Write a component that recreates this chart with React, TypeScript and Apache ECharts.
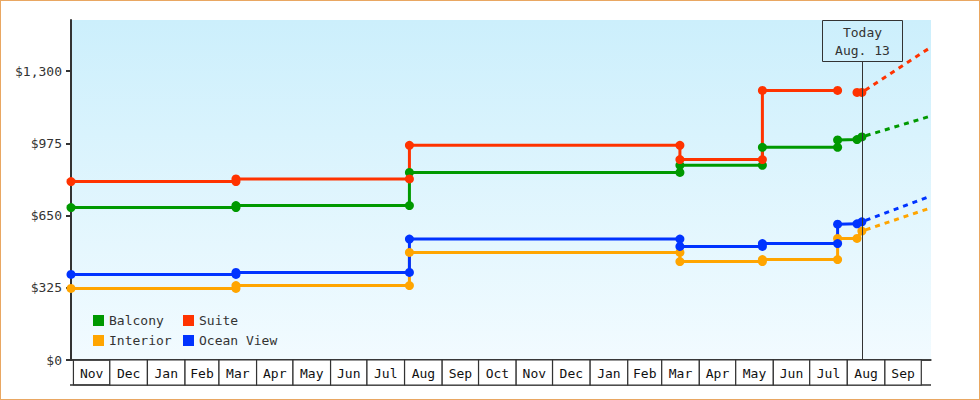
import { useEffect, useRef } from 'react'
import * as echarts from 'echarts'

const startDate = '2013-10-30'
const endDate = '2015-10-09'
const today = '2015-08-13'
const todayLabel = ['Today', 'Aug. 13']

// month boxes under the plot, first box is Nov 2013
const firstMonth = { year: 2013, month: 10 }
const monthLabels = [
  'Nov', 'Dec', 'Jan', 'Feb', 'Mar', 'Apr', 'May', 'Jun', 'Jul', 'Aug', 'Sep',
  'Oct', 'Nov', 'Dec', 'Jan', 'Feb', 'Mar', 'Apr', 'May', 'Jun', 'Jul', 'Aug', 'Sep',
]

const priceTicks = [0, 325, 650, 975, 1300]

// fare changes: each change date appears twice (old price, new price)
const stepDates = [
  '2013-10-30', '2014-03-15', '2014-03-15', '2014-08-05', '2014-08-05',
  '2015-03-16', '2015-03-16', '2015-05-23', '2015-05-23', '2015-07-24',
  '2015-07-24', '2015-08-09', '2015-08-13',
]
const balcony = [686, 686, 695, 695, 844, 844, 876, 876, 957, 957, 990, 992, 1004]
const suite = [803, 803, 815, 815, 966, 966, 902, 902, 1213, 1213, null, 1204, 1204]
const interior = [322, 322, 335, 335, 484, 484, 443, 443, 452, 452, 547, 547, 580]
const oceanView = [385, 385, 394, 394, 544, 544, 511, 511, 524, 524, 611, 613, 622]

// projection from today to the end of the axis
const projDates = ['2015-08-13', '2015-10-09']
const balconyProj = [1004, 1098]
const suiteProj = [1204, 1408]
const interiorProj = [580, 685]
const oceanViewProj = [622, 738]

const FONT = 'DejaVu Sans Mono, monospace'
const INK = '#333333'

const colors: Record<string, string> = {
  Balcony: '#009900',
  Suite: '#FF3300',
  Interior: '#FFA500',
  'Ocean View': '#0033FF',
}

function stepSeries(name: string, values: (number | null)[]) {
  return {
    name,
    type: 'line',
    data: stepDates.map((d, i) => [d, values[i]]),
    symbol: 'circle',
    symbolSize: 9,
    showAllSymbol: true,
    connectNulls: false,
    lineStyle: { width: 3, color: colors[name] },
    itemStyle: { color: colors[name] },
    z: 3,
  }
}

function projSeries(name: string, values: number[]) {
  return {
    name,
    type: 'line',
    data: projDates.map((d, i) => [d, values[i]]),
    symbol: 'none',
    lineStyle: { width: 3, color: colors[name], type: [5, 5], dashOffset: 6 },
    itemStyle: { color: colors[name] },
    z: 2,
  }
}

function legendBlock(names: string[], left: number) {
  return {
    data: names,
    orient: 'vertical',
    left,
    top: 314,
    padding: 0,
    icon: 'rect',
    itemWidth: 11,
    itemHeight: 11,
    itemGap: 7,
    textStyle: { fontFamily: FONT, fontSize: 13, lineHeight: 11, color: INK },
  }
}

export default function App() {
  const ref = useRef<HTMLDivElement>(null)

  useEffect(() => {
    document.body.style.margin = '0'
    if (!ref.current) return
    const chart = echarts.init(ref.current, null, { renderer: 'svg' })

    const months = monthLabels.map((_, i) => [
      new Date(firstMonth.year, firstMonth.month + i, 1).getTime(),
      new Date(firstMonth.year, firstMonth.month + i + 1, 1).getTime(),
    ])

    chart.setOption({
      animation: false,
      textStyle: { fontFamily: FONT },
      grid: {
        left: 71,
        right: 49,
        top: 20,
        bottom: 40,
        show: true,
        borderWidth: 0,
        backgroundColor: new echarts.graphic.LinearGradient(0, 0, 0, 1, [
          { offset: 0, color: '#CCEFFC' },
          { offset: 1, color: '#F2FBFF' },
        ]),
      },
      legend: [
        legendBlock(['Balcony', 'Interior'], 93),
        legendBlock(['Suite', 'Ocean View'], 183),
      ],
      xAxis: {
        type: 'time',
        min: startDate,
        max: endDate,
        axisLine: { show: true, lineStyle: { color: INK, width: 1.5 } },
        axisTick: { show: false },
        axisLabel: { show: false },
        splitLine: { show: false },
      },
      yAxis: {
        type: 'value',
        min: 0,
        max: 1530,
        axisLine: { show: true, lineStyle: { color: INK, width: 2 } },
        axisTick: {
          show: true,
          length: 5,
          customValues: priceTicks,
          lineStyle: { color: INK, width: 2 },
        },
        axisLabel: {
          customValues: priceTicks,
          margin: 9,
          color: INK,
          fontFamily: FONT,
          fontSize: 13,
          formatter: (v: number) => '$' + v.toLocaleString('en-US'),
        },
        splitLine: { show: false },
      },
      series: [
        stepSeries('Balcony', balcony),
        stepSeries('Suite', suite),
        stepSeries('Interior', interior),
        stepSeries('Ocean View', oceanView),
        projSeries('Balcony', balconyProj),
        projSeries('Suite', suiteProj),
        projSeries('Interior', interiorProj),
        projSeries('Ocean View', oceanViewProj),
        {
          type: 'custom',
          name: 'months',
          data: months,
          encode: { x: [0, 1] },
          clip: false,
          silent: true,
          z: 5,
          renderItem: (params: any, api: any) => {
            const i = params.dataIndex
            const x0 = api.coord([api.value(0), 0])[0]
            const x1 = api.coord([api.value(1), 0])[0]
            const cs = params.coordSys
            const yTop = cs.y + cs.height
            const children: any[] = [
              {
                type: 'rect',
                shape: { x: x0, y: yTop, width: x1 - x0, height: 25 },
                style: { fill: '#fff', stroke: INK, lineWidth: 1.2 },
              },
              {
                type: 'text',
                x: (x0 + x1) / 2,
                y: yTop + 13,
                style: {
                  text: monthLabels[i],
                  fill: '#111',
                  font: `13px ${FONT}`,
                  align: 'center',
                  verticalAlign: 'middle',
                },
              },
            ]
            if (i === 0) {
              children.push({
                type: 'line',
                shape: { x1: cs.x - 1, y1: yTop + 25, x2: cs.x + cs.width, y2: yTop + 25 },
                style: { stroke: INK, lineWidth: 1.5 },
              })
              children.push({
                type: 'line',
                shape: { x1: cs.x, y1: yTop, x2: cs.x + cs.width, y2: yTop },
                style: { stroke: INK, lineWidth: 1.5 },
              })
            }
            return { type: 'group', children }
          },
        },
        {
          type: 'custom',
          name: 'today',
          data: [[today]],
          encode: { x: 0 },
          clip: false,
          silent: true,
          z: 4,
          renderItem: (params: any, api: any) => {
            const cs = params.coordSys
            const x = Math.round(api.coord([api.value(0), 0])[0]) + 0.5
            const boxH = 41
            return {
              type: 'group',
              children: [
                {
                  type: 'line',
                  shape: { x1: x, y1: cs.y + boxH, x2: x, y2: cs.y + cs.height },
                  style: { stroke: INK, lineWidth: 1 },
                },
                {
                  type: 'rect',
                  shape: { x: x - 40, y: cs.y + 0.5, width: 80, height: boxH },
                  style: { fill: 'none', stroke: INK, lineWidth: 1 },
                },
                {
                  type: 'text',
                  x,
                  y: cs.y + 12.5,
                  style: {
                    text: todayLabel[0],
                    fill: INK,
                    font: `13px ${FONT}`,
                    align: 'center',
                    verticalAlign: 'middle',
                  },
                },
                {
                  type: 'text',
                  x,
                  y: cs.y + 30,
                  style: {
                    text: todayLabel[1],
                    fill: INK,
                    font: `13px ${FONT}`,
                    align: 'center',
                    verticalAlign: 'middle',
                  },
                },
              ],
            }
          },
        },
      ],
    })

    return () => chart.dispose()
  }, [])

  return (
    <div style={{ position: 'relative', width: 980, height: 400, background: '#fff' }}>
      <div ref={ref} style={{ width: 980, height: 400 }} />
      <div
        style={{
          position: 'absolute',
          inset: 0,
          border: '1.5px solid #E9A762',
          pointerEvents: 'none',
        }}
      />
    </div>
  )
}
